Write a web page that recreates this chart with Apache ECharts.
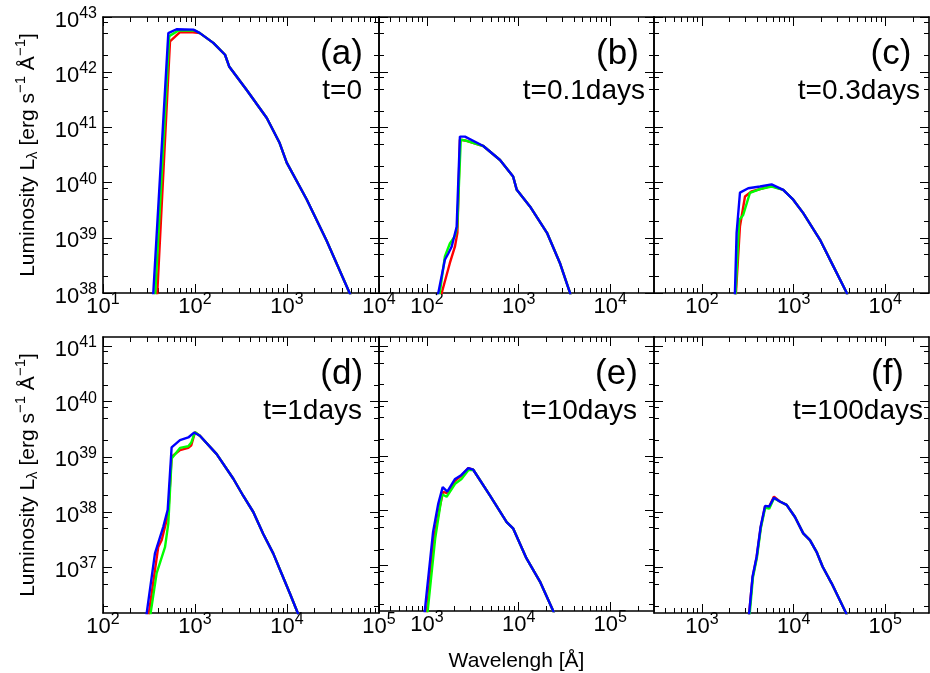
<!DOCTYPE html>
<html><head><meta charset="utf-8">
<script src="https://cdn.jsdelivr.net/npm/echarts@6/dist/echarts.min.js"></script>
<style>html,body{margin:0;padding:0;background:#fff}#c{width:930px;height:673px}</style>
</head><body><div id="c"></div>
<script>
// ---------------- DATA (wavelength [Å], luminosity [erg/s/Å]) ----------------
// panel (a) t=0
const aTail = [[113,5.1e42],[158,3.4e42],[212,2.07e42],[235,1.27e42],[363,4.8e41],[603,1.48e41],[832,5.2e40],[993,2.3e40],[1633,5.0e39],[2690,8.9e38],[4790,1.0e38],[5620,4.8e37]];
const aRedHead = [[37.6,3e37],[38.9,1e38],[53.5,3.6e42],[68.7,5.3e42],[95,5.3e42]];
const aGreenHead = [[35.8,3e37],[37,1e38],[52.5,4.5e42],[66,5.7e42],[100,5.7e42]];
const aBlueHead = [[33.9,3e37],[35.2,1e38],[51.3,5.1e42],[63,6.0e42],[96,5.9e42]];
// panel (b) t=0.1days
const bTail = [[412,4.6e40],[627,2.57e40],[871,1.29e40],[955,7.4e39],[1330,3.7e39],[2040,1.23e39],[2820,3.5e38],[3630,1.02e38],[4000,5e37]];
const bRedHead = [[140,5e37],[145,1e38],[178,3.5e38],[202,6.9e38],[215,1.23e39],[229,6.0e40],[260,5.8e40]];
const bGreenHead = [[132,5e37],[138,1e38],[157,4.6e38],[178,7.9e38],[202,1.07e39],[214,1.58e39],[234,6.0e40],[260,5.8e40]];
const bBlueHead = [[125,5e37],[133,1e38],[157,4e38],[171,5.2e38],[186,6.9e38],[211,1.58e39],[229,6.8e40],[260,6.8e40]];
// panel (c) t=0.3days
const cTail = [[771,7.4e39],[991,4.9e39],[1274,2.8e39],[1936,9.3e38],[2700,3.1e38],[3780,1.02e38],[4200,5e37]];
const cRedHead = [[234,5e37],[235,1e38],[260,1.62e39],[295,5.6e39],[347,6.9e39],[575,8.7e39]];
const cGreenHead = [[232,5e37],[233,1e38],[255,2.1e39],[282,2.6e39],[334,6.5e39],[430,7.6e39],[575,8.5e39]];
const cBlueHead = [[228,5e37],[229,1e38],[239,1.23e39],[260,6.6e39],[320,7.9e39],[430,8.5e39],[575,9.3e39]];
// panel (d) t=1days
const dTail = [[1130,2.4e39],[1720,1.12e39],[2610,4.0e38],[3350,1.95e38],[4300,1.0e38],[5520,4.0e37],[7080,1.78e37],[8750,7.6e36],[10700,3.4e36],[13060,1.5e36],[14500,8e35]];
const dRedHead = [[306,8e35],[316,1.5e36],[398,2.3e37],[435,3.1e37],[513,9.5e37],[557,1.0e39],[687,1.32e39],[845,1.45e39],[912,1.62e39],[1000,2.8e39]];
const dGreenHead = [[320,8e35],[330,1.5e36],[383,7.8e36],[472,2.3e37],[513,6.2e37],[557,9.3e38],[687,1.45e39],[845,1.55e39],[912,1.82e39],[1000,2.8e39]];
const dBlueHead = [[290,8e35],[299,1.5e36],[367,1.78e37],[452,5.4e37],[505,1.1e38],[557,1.48e39],[687,2.0e39],[845,2.24e39],[977,2.75e39]];
// panel (e) t=10days
const eTail = [[3200,5.6e38],[4860,1.9e38],[7410,6.2e37],[8750,4.7e37],[12200,1.35e37],[17100,5.1e36],[23800,1.5e36],[27000,8e35]];
const eRedHead = [[975,8e35],[1000,1.5e36],[1190,3.1e37],[1380,1.17e38],[1500,2.2e38],[1660,2.1e38],[2028,3.5e38],[2382,4.4e38],[2825,6.0e38]];
const eGreenHead = [[995,8e35],[1020,1.5e36],[1230,3.1e37],[1460,2.0e38],[1640,1.8e38],[2028,3.1e38],[2382,3.8e38],[2825,5.5e38]];
const eBlueHead = [[920,8e35],[948,1.5e36],[1167,4.1e37],[1330,1.35e38],[1486,2.7e38],[1667,2.24e38],[2028,3.8e38],[2382,4.5e38],[2825,6.0e38]];
// panel (f) t=100days
const fTail = [[7080,1.55e38],[8390,1.35e38],[10350,8.1e37],[12740,4.1e37],[15070,3.1e37],[17800,1.9e37],[20750,1.02e37],[26000,5.1e36],[37200,1.5e36],[42000,8e35]];
const fRedHead = [[3150,8e35],[3280,1.5e36],[3570,6.6e36],[3950,1.5e37],[4370,5.2e37],[4880,1.26e38],[5420,1.26e38],[6110,1.9e38]];
const fGreenHead = [[3200,8e35],[3330,1.5e36],[3600,6.5e36],[3980,1.5e37],[4400,5.2e37],[4900,1.2e38],[5420,1.15e38],[6110,1.78e38]];
const fBlueHead = [[3150,8e35],[3280,1.5e36],[3570,6.8e36],[3950,1.55e37],[4370,5.4e37],[4880,1.29e38],[5420,1.26e38],[6110,1.82e38]];

// axis ranges
const xRangeA = [10, 1e4], xRangeBC = [30, 3e4], xRangeD = [100, 1e5], xRangeEF = [300, 3e5];
const yRangeTop = [1e38, 1e43], yRangeBottom = [1.48e36, 1.48e41];
// tick labels
const xLabelsA = [10, 100, 1000, 10000];
const xLabelsBC = [100, 1000, 10000];
const xLabelsD = [100, 1000, 10000, 100000];
const xLabelsEF = [1000, 10000, 100000];
const yLabelsTop = [1e38, 1e39, 1e40, 1e41, 1e42, 1e43];
const yLabelsBottom = [1e37, 1e38, 1e39, 1e40, 1e41];
const xMinorSubs = [2, 3, 4, 5, 6, 7, 8, 9];
const yMinorSubs = [2, 5, 8];
const panelLetters = ['(a)', '(b)', '(c)', '(d)', '(e)', '(f)'];
const panelTimes = ['t=0', 't=0.1days', 't=0.3days', 't=1days', 't=10days', 't=100days'];
const seriesColors = ['#ff0000', '#00ff00', '#0000ff'];

// ---------------- LAYOUT ----------------
const FONT = '"Liberation Sans", Arial, Helvetica, sans-serif';
const colLeft = [103, 379, 654], colWidth = [276, 275, 275];
const rowTop = [17, 337], rowHeight = 276;
const letterPos = [[341.5, 54], [617.5, 54], [891, 54], [341.7, 374], [616.5, 374], [887.5, 374]];
const timeRight = [[362, 91], [645, 91], [920, 91], [362, 411], [637, 411], [923, 411]];

const panels = [
  {xr: xRangeA, yr: yRangeTop, xl: xLabelsA, yl: yLabelsTop, r: aRedHead.concat(aTail), g: aGreenHead.concat(aTail), b: aBlueHead.concat(aTail)},
  {xr: xRangeBC, yr: yRangeTop, xl: xLabelsBC, yl: null, r: bRedHead.concat(bTail), g: bGreenHead.concat(bTail), b: bBlueHead.concat(bTail)},
  {xr: xRangeBC, yr: yRangeTop, xl: xLabelsBC, yl: null, r: cRedHead.concat(cTail), g: cGreenHead.concat(cTail), b: cBlueHead.concat(cTail)},
  {xr: xRangeD, yr: yRangeBottom, xl: xLabelsD, yl: yLabelsBottom, r: dRedHead.concat(dTail), g: dGreenHead.concat(dTail), b: dBlueHead.concat(dTail)},
  {xr: xRangeEF, yr: yRangeBottom, xl: xLabelsEF, yl: null, r: eRedHead.concat(eTail), g: eGreenHead.concat(eTail), b: eBlueHead.concat(eTail)},
  {xr: xRangeEF, yr: yRangeBottom, xl: xLabelsEF, yl: null, r: fRedHead.concat(fTail), g: fGreenHead.concat(fTail), b: fBlueHead.concat(fTail)}
];

const lg = v => Math.log10(v);
function majors(lo, hi) { const o = []; for (let e = Math.ceil(lo - 1e-9); e <= Math.floor(hi + 1e-9); e++) o.push(e); return o; }
function minors(lo, hi, subs) { const o = []; for (let e = Math.floor(lo) - 1; e <= Math.ceil(hi); e++) for (const s of subs) { const v = e + lg(s); if (v > lo + 1e-6 && v < hi - 1e-6) o.push(v); } return o; }

const richX = {
  b: {fontSize: 22, lineHeight: 24, fontFamily: FONT, color: '#000', verticalAlign: 'middle'},
  s: {fontSize: 16, lineHeight: 16, padding: [0, 0, 14, 0], fontFamily: FONT, color: '#000', verticalAlign: 'middle'}
};
const richY = {
  b: {fontSize: 22, lineHeight: 24, padding: [7, 0, 0, 0], fontFamily: FONT, color: '#000', verticalAlign: 'middle'},
  s: {fontSize: 16, lineHeight: 16, padding: [0, 0, 7, 0], fontFamily: FONT, color: '#000', verticalAlign: 'middle'}
};
const fmt = v => '{b|10}{s|' + Math.round(v) + '}';

const grids = [], xAxes = [], yAxes = [], series = [], graphics = [];
panels.forEach((p, i) => {
  const row = Math.floor(i / 3), col = i % 3;
  grids.push({left: colLeft[col], top: rowTop[row], width: colWidth[col], height: rowHeight});
  const xlo = lg(p.xr[0]), xhi = lg(p.xr[1]), ylo = lg(p.yr[0]), yhi = lg(p.yr[1]);
  const xMaj = majors(xlo, xhi), xMin = minors(xlo, xhi, xMinorSubs);
  const yMaj = majors(ylo, yhi), yMin = minors(ylo, yhi, yMinorSubs);
  const tickAx = (pos, lo, hi, ticks, len, lineShow, labels, rich) => ({
    type: 'value', gridIndex: i, position: pos, min: lo, max: hi, silent: true,
    axisLine: {show: lineShow, onZero: false, lineStyle: {color: '#000', width: 1.6}},
    axisTick: {show: true, inside: true, length: len, customValues: ticks, lineStyle: {color: '#000', width: 1}},
    axisLabel: labels ? {show: true, customValues: labels.map(lg), formatter: fmt, margin: pos === 'bottom' ? 2 : 6, rich: rich} : {show: false},
    splitLine: {show: false}
  });
  const xi = xAxes.length, yi = yAxes.length;
  xAxes.push({type: 'log', logBase: 10, gridIndex: i, min: p.xr[0], max: p.xr[1], show: false});
  xAxes.push(tickAx('bottom', xlo, xhi, xMaj, 9, true, p.xl, richX));
  xAxes.push(tickAx('bottom', xlo, xhi, xMin, 5, false, null));
  xAxes.push(tickAx('top', xlo, xhi, xMaj, 9, true, null));
  xAxes.push(tickAx('top', xlo, xhi, xMin, 5, false, null));
  yAxes.push({type: 'log', logBase: 10, gridIndex: i, min: p.yr[0], max: p.yr[1], show: false});
  const yl = tickAx('left', ylo, yhi, yMaj, 9, true, p.yl, richY);
  if (col === 0) {
    Object.assign(yl, {
      name: '{n|Luminosity L}{sub|λ}{n| [erg s}{sup|−1}{n| Å}{sup|−1}{n|]}',
      nameLocation: 'middle', nameGap: 63, nameRotate: 90,
      nameTextStyle: {fontFamily: FONT, fontSize: 21, color: '#000', rich: {
        n: {fontSize: 21, lineHeight: 24, fontFamily: FONT, color: '#000', verticalAlign: 'middle'},
        sub: {fontSize: 15, lineHeight: 15, padding: [10, 0, 0, 0], fontFamily: FONT, color: '#000', verticalAlign: 'middle'},
        sup: {fontSize: 15, lineHeight: 15, padding: [0, 0, 14, 0], fontFamily: FONT, color: '#000', verticalAlign: 'middle'}
      }}
    });
  }
  yAxes.push(yl);
  yAxes.push(tickAx('left', ylo, yhi, yMin, 5, false, null));
  yAxes.push(tickAx('right', ylo, yhi, yMaj, 9, true, null));
  yAxes.push(tickAx('right', ylo, yhi, yMin, 5, false, null));
  if (i === 4) {
    Object.assign(xAxes[xi + 1], {
      name: 'Wavelengh [Å]', nameLocation: 'middle', nameGap: 40,
      nameTextStyle: {fontFamily: FONT, fontSize: 21, color: '#000'}
    });
  }
  [p.r, p.g, p.b].forEach((d, k) => {
    series.push({type: 'line', xAxisIndex: xi, yAxisIndex: yi, data: d, showSymbol: false, clip: true,
      lineStyle: {color: seriesColors[k], width: 2.4}, itemStyle: {color: seriesColors[k]}, z: 3 + k, silent: true});
  });
  graphics.push({type: 'text', x: letterPos[i][0], y: letterPos[i][1], z: 100,
    style: {text: panelLetters[i], font: '35px ' + FONT, fill: '#000', textAlign: 'center', textVerticalAlign: 'middle'}});
  graphics.push({type: 'text', x: timeRight[i][0], y: timeRight[i][1], z: 100,
    style: {text: panelTimes[i], font: '28px ' + FONT, fill: '#000', textAlign: 'right', textVerticalAlign: 'middle'}});
});

const chart = echarts.init(document.getElementById('c'), null, {renderer: 'canvas'});
chart.setOption({
  animation: false,
  backgroundColor: '#fff',
  grid: grids, xAxis: xAxes, yAxis: yAxes, series: series, graphic: graphics
});
</script></body></html>
